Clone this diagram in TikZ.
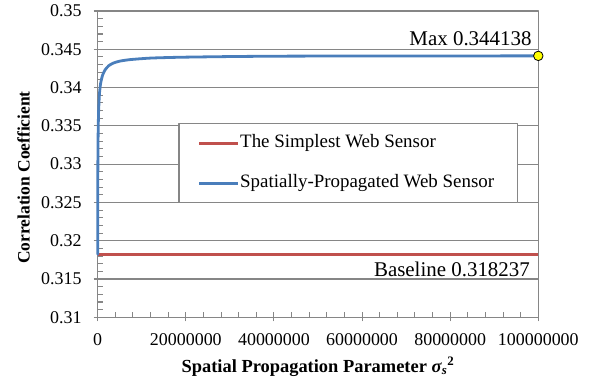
\documentclass[tikz,border=0pt]{standalone}
\usepackage{fontspec}
\setmainfont{Liberation Serif}
\usetikzlibrary{arrows}

\definecolor{gridcol}{RGB}{134,134,134}
\definecolor{simplecol}{RGB}{192,80,77}
\definecolor{spatialcol}{RGB}{74,126,187}
\definecolor{maxcol}{RGB}{255,255,0}

\begin{document}
\begin{tikzpicture}[line join=bevel,
  gridline/.style={draw=gridcol,line width=1.1bp},
  tickline/.style={draw=gridcol,line width=1.1bp},
  ticklabel/.style={inner sep=0pt,font=\fontsize{18}{18}\selectfont},
  plaintext/.style={inner sep=0pt,font=\fontsize{19}{19}\selectfont},
  notetext/.style={inner sep=0pt,font=\fontsize{21}{21}\selectfont},
  axistitle/.style={inner sep=0pt,font=\fontsize{17.5}{17.5}\selectfont\bfseries},
  simpleline/.style={draw=simplecol,line width=2.6bp},
  spatialline/.style={draw=spatialcol,line width=2.8bp,line cap=round}]
\useasboundingbox (0bp,0bp) rectangle (592bp,386bp);

% Plot area: x in 1e6, y in 1e-3 above 0.31
\begin{scope}[shift={(97.7bp,68.7bp)},x=4.406bp,y=7.6575bp]

% Grid and frame
\foreach \v in {5,10,...,35}
  \draw [gridline] (0,\v) -- (100,\v);
\draw [gridline] (0,0) rectangle (100,40);

% Axis: y
\foreach \v in {1,...,39}
  \draw [tickline] (0,\v) -- ++(5bp,0);
\foreach \v/\t [count=\i] in {0/0.31,5/0.315,10/0.32,15/0.325,20/0.33,25/0.335,30/0.34,35/0.345,40/0.35} {
  \draw [tickline] (-4bp,\v) -- (3bp,\v);
  \node (ytick\i) [ticklabel,anchor=east] at ([xshift=-16bp]0,\v) {\t};
}

% Axis: x
\foreach \u in {4,8,...,96}
  \draw [tickline] (\u,0) -- ++(0,5bp);
\foreach \u/\t [count=\i] in {0/0,20/20000000,40/40000000,60/60000000,80/80000000,100/100000000} {
  \draw [tickline] (\u,-4bp) -- (\u,3bp);
  \node (xtick\i) [ticklabel] at ([yshift=-22bp]\u,0) {\t};
}

% Series: The Simplest Web Sensor
\draw [simpleline] (0,8.237) -- (100,8.237);

% Series: Spatially-Propagated Web Sensor
\draw [spatialline] plot [smooth,tension=0.4] coordinates {
  (0,8.24) (0.01,14) (0.04,20) (0.1,24) (0.2,26.8) (0.4,29.2) (0.68,30.6)
  (1.1,31.6) (1.66,32.3) (2.5,32.85) (3.54,33.2) (5,33.45) (7.33,33.65)
  (12,33.85) (18.7,33.96) (30,34.05) (41.4,34.1) (60,34.125) (80,34.133)
  (100,34.138)};

% Node: max point
\node (maxpt) [circle,draw=black,fill=maxcol,line width=0.8bp,inner sep=0pt,
  minimum size=9.5bp] at (100,34.138) {};
\node (maxlabel) [notetext,anchor=base east] at ([xshift=-6.6bp,yshift=10.2bp]maxpt.center) {Max 0.344138};

% Node: baseline label
\coordinate (baseend) at (100,8.237);
\node (baselabel) [notetext,anchor=base east] at ([xshift=-8.3bp,yshift=-22.4bp]baseend) {Baseline 0.318237};
\end{scope}

% Legend
\begin{scope}
  \draw [draw=gridcol,fill=white,line width=1.1bp] (179bp,183.3bp) rectangle (517.7bp,262.7bp);
  \draw [simpleline] (199bp,242.7bp) -- (238bp,242.7bp);
  \node (simplekey) [plaintext,anchor=west] at (240bp,242.7bp) {The Simplest Web Sensor};
  \draw [spatialline,line cap=butt] (199bp,202.7bp) -- (238bp,202.7bp);
  \node (spatialkey) [plaintext,anchor=west] at (240bp,202.7bp) {Spatially-Propagated Web Sensor};
\end{scope}

% Axis titles
\node (xtitle) [axistitle,font=\fontsize{18.5}{18.5}\selectfont\bfseries] at (318bp,19.3bp) {Spatial Propagation Parameter \textit{σ}\textsubscript{\textit{s}}\textsuperscript{2}};
\node (ytitle) [axistitle,rotate=90] at (23.5bp,208.5bp) {Correlation Coefficient};
%
\end{tikzpicture}
\end{document}
